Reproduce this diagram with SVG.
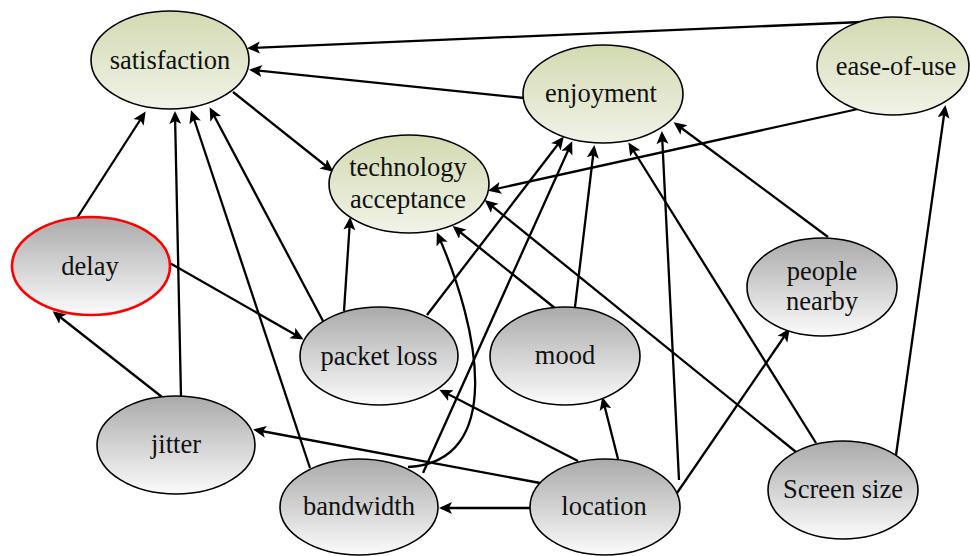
<svg xmlns="http://www.w3.org/2000/svg" width="970" height="556" viewBox="0 0 970 556">
<style>
.n{stroke:#000;stroke-width:1.6}
.g{fill:url(#gy)}
.y{fill:url(#gg)}
text{font-family:"Liberation Serif","Times New Roman",serif;font-size:26.5px;fill:#111;text-anchor:middle}
.e{fill:none;stroke:#000;stroke-width:2.3;marker-end:url(#ah)}
</style>
<defs>
<linearGradient id="gg" x1="0" y1="0" x2="0" y2="1">
<stop offset="0" stop-color="#d2dab1"/>
<stop offset="1" stop-color="#f1f3e8"/>
</linearGradient>
<linearGradient id="gy" x1="0" y1="0" x2="0" y2="1">
<stop offset="0" stop-color="#aaaaaa"/>
<stop offset="1" stop-color="#fbfbfb"/>
</linearGradient>
<marker id="ah" markerUnits="userSpaceOnUse" markerWidth="16" markerHeight="14" refX="10" refY="6" orient="auto">
<path d="M0,0 L13,6 L0,12 L3,6 z" fill="#000"/>
</marker>
</defs>
<rect width="970" height="556" fill="#fff"/>
<g id="connectors">
<line class="e" x1="862" y1="22" x2="250" y2="48"/>
<line class="e" x1="524" y1="98" x2="252" y2="70"/>
<line class="e" x1="233" y1="92" x2="331" y2="170"/>
<line class="e" x1="858" y1="109" x2="491" y2="190"/>
<line class="e" x1="77" y1="218" x2="144" y2="114"/>
<line class="e" x1="181" y1="397" x2="175" y2="114"/>
<line class="e" x1="310" y1="468" x2="192" y2="113"/>
<line class="e" x1="323" y1="321" x2="211" y2="110"/>
<line class="e" x1="168" y1="262" x2="301" y2="338"/>
<line class="e" x1="162" y1="397" x2="55" y2="313"/>
<line class="e" x1="344" y1="311" x2="350" y2="220"/>
<line class="e" x1="427" y1="315" x2="562" y2="139"/>
<line class="e" x1="423" y1="473" x2="571" y2="144"/>
<path class="e" d="M408,467 C505,462 480,330 438,235"/>
<line class="e" x1="556" y1="309" x2="455" y2="228"/>
<line class="e" x1="575" y1="307" x2="594" y2="148"/>
<line class="e" x1="578" y1="461" x2="442" y2="391"/>
<line class="e" x1="540" y1="483" x2="256" y2="430"/>
<line class="e" x1="533" y1="508" x2="442" y2="508"/>
<line class="e" x1="618" y1="459" x2="603" y2="400"/>
<line class="e" x1="679" y1="480" x2="662" y2="134"/>
<line class="e" x1="677" y1="493" x2="788" y2="331"/>
<line class="e" x1="796" y1="452" x2="487" y2="202"/>
<line class="e" x1="816" y1="443" x2="630" y2="145"/>
<line class="e" x1="896" y1="455" x2="945" y2="108"/>
<line class="e" x1="828" y1="237" x2="676" y2="124"/>
</g>
<g id="satisfaction"><ellipse class="n y" cx="170" cy="60" rx="79" ry="49"/><text x="170" y="69">satisfaction</text></g>
<g id="enjoyment"><ellipse class="n y" cx="603" cy="94" rx="80" ry="49"/><text x="601" y="102">enjoyment</text></g>
<g id="ease-of-use"><ellipse class="n y" cx="893" cy="66" rx="76" ry="49"/><text x="896" y="75">ease-of-use</text></g>
<g id="technology-acceptance"><ellipse class="n y" cx="409" cy="184" rx="80" ry="49"/><text x="408" y="176">technology</text><text x="408" y="208">acceptance</text></g>
<g id="delay"><ellipse cx="91" cy="266" rx="79" ry="49" class="g" stroke="#ff0000" stroke-width="2.6"/><text x="90" y="275">delay</text></g>
<g id="packet-loss"><ellipse class="n g" cx="379" cy="356" rx="79" ry="49"/><text x="379" y="365">packet loss</text></g>
<g id="mood"><ellipse class="n g" cx="565" cy="356" rx="75" ry="49"/><text x="565" y="364">mood</text></g>
<g id="people-nearby"><ellipse class="n g" cx="822" cy="287" rx="75" ry="49"/><text x="822" y="280">people</text><text x="822" y="310">nearby</text></g>
<g id="jitter"><ellipse class="n g" cx="176" cy="445" rx="79" ry="49"/><text x="176" y="453">jitter</text></g>
<g id="bandwidth"><ellipse class="n g" cx="359" cy="507" rx="79" ry="48"/><text x="359" y="515">bandwidth</text></g>
<g id="location"><ellipse class="n g" cx="605" cy="507" rx="75" ry="48"/><text x="604" y="515">location</text></g>
<g id="screen-size"><ellipse class="n g" cx="843" cy="490" rx="75" ry="49"/><text x="843" y="498">Screen size</text></g>
</svg>
